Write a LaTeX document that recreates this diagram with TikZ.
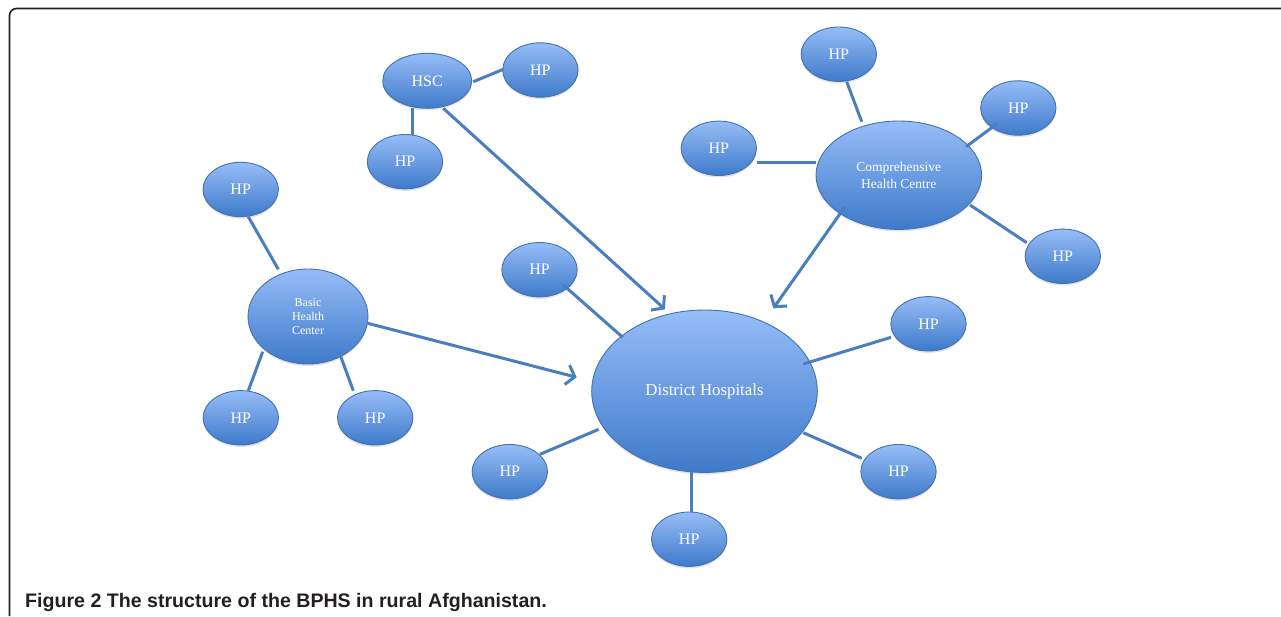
\documentclass[tikz,border=0pt]{standalone}
\usepackage{fontspec}
\setmainfont{Liberation Serif}
\newfontfamily\capfont{Liberation Sans}
\usetikzlibrary{shapes.geometric,arrows.meta,shadows}
\definecolor{nodetop}{HTML}{96BDF7}
\definecolor{nodebot}{HTML}{3E7ACA}
\definecolor{nodeborder}{HTML}{4272B3}
\definecolor{linkblue}{HTML}{4A7EBE}
\definecolor{framegray}{HTML}{231F20}
\tikzset{
  bubble/.style={ellipse, draw=nodeborder, line width=0.9pt, top color=nodetop, bottom color=nodebot,
    inner sep=0pt, text=white, align=center, font=\fontsize{16}{18}\selectfont,
    drop shadow={shadow xshift=0pt, shadow yshift=-2pt, opacity=0.22}},
  hp/.style={bubble, minimum width=75.4pt, minimum height=54.4pt},
  link/.style={draw=linkblue, line width=3pt},
  flow/.style={link, -{Straight Barb[length=8pt,width=20pt]}},
}
\begin{document}
\begin{tikzpicture}[x=1pt,y=-1pt]
\useasboundingbox (0,0) rectangle (1281,616);
\draw[framegray, line width=1.6pt, rounded corners=7pt] (9.5,616) -- (9.5,8.5) -- (1281,8.5);
\node[anchor=base west, inner sep=0pt, text=framegray, font=\capfont\bfseries\fontsize{19.6}{22}\selectfont] (caption) at (25,607) {Figure 2 The structure of the BPHS in rural Afghanistan.};

% main nodes
\node[bubble, minimum width=89pt, minimum height=55pt] (hsc) at (427.2,80.8) {HSC};
\node[bubble, minimum width=165.6pt, minimum height=108.4pt, font=\fontsize{13.5}{16.7}\selectfont] (chc) at (898.8,175.2) {Comprehensive\\Health Centre};
\node[bubble, minimum width=120pt, minimum height=95pt, font=\fontsize{12}{14}\selectfont] (bhc) at (308,316.5) {Basic\\Health\\Center};
\node[bubble, minimum width=225.6pt, minimum height=162.4pt, font=\fontsize{16.8}{19}\selectfont] (dh) at (704.5,391.2) {District Hospitals};

% health posts
\node[hp] (hphr) at (540.4,70) {HP};
\node[hp] (hphb) at (405,161.7) {HP};
\node[hp] (hpct) at (838.8,54.2) {HP};
\node[hp] (hpcr) at (1018.3,108) {HP};
\node[hp] (hpcl) at (718.8,148.3) {HP};
\node[hp] (hpclr) at (1062.8,256.3) {HP};
\node[hp] (hpbt) at (240.7,189.5) {HP};
\node[hp] (hpbl) at (240.8,417.8) {HP};
\node[hp] (hpbr) at (375.2,417.8) {HP};
\node[hp] (hpdul) at (539.5,269.7) {HP};
\node[hp] (hpdr) at (928.5,323.8) {HP};
\node[hp] (hpdll) at (509.8,471.7) {HP};
\node[hp] (hpdlr) at (898.5,471.7) {HP};
\node[hp] (hpdb) at (689.2,539.2) {HP};

% connectors
\draw[link] ([shift={(46.1,0.9)}]hsc.center) -- ([shift={(-37.1,-0.7)}]hphr.center);
\draw[link] ([shift={(-14.9,27.5)}]hsc.center) -- ([shift={(7.3,-26.7)}]hphb.center);
\draw[flow] ([shift={(16.1,27.5)}]hsc.center) -- ([shift={(-39.5,-81.9)}]dh.center);

\draw[link] ([shift={(7.9,27.5)}]hpct.center) -- ([shift={(-37.1,-53.5)}]chc.center);
\draw[link] ([shift={(67.2,-28.5)}]chc.center) -- ([shift={(-21.6,16)}]hpcr.center);
\draw[link] ([shift={(37.9,14.4)}]hpcl.center) -- ([shift={(-82.8,-12.5)}]chc.center);
\draw[link] ([shift={(71.2,29.8)}]chc.center) -- ([shift={(-36.1,-13.6)}]hpclr.center);
\draw[flow] ([shift={(-53.8,31.5)}]chc.center) -- ([shift={(68.8,-82.9)}]dh.center);

\draw[link] ([shift={(7.6,27.2)}]hpbt.center) -- ([shift={(-29.7,-47.2)}]bhc.center);
\draw[link] ([shift={(-45.3,35.2)}]bhc.center) -- ([shift={(7.5,-27.1)}]hpbl.center);
\draw[link] ([shift={(31,35.2)}]bhc.center) -- ([shift={(-21.9,-27.1)}]hpbr.center);
\draw[flow] ([shift={(59.7,6.8)}]bhc.center) -- ([shift={(-127.8,-13.9)}]dh.center);

\draw[link] ([shift={(23.8,15.3)}]hpdul.center) -- ([shift={(-81.8,-53.9)}]dh.center);
\draw[link] ([shift={(98.8,-27.2)}]dh.center) -- ([shift={(-37.5,13.5)}]hpdr.center);
\draw[link] ([shift={(30.2,-17.4)}]hpdll.center) -- ([shift={(-105.8,38.1)}]dh.center);
\draw[link] ([shift={(98.8,41.5)}]dh.center) -- ([shift={(-36.8,-13.4)}]hpdlr.center);
\draw[link] ([shift={(-12.8,81.1)}]dh.center) -- ([shift={(2.5,-27.5)}]hpdb.center);
\end{tikzpicture}
\end{document}
